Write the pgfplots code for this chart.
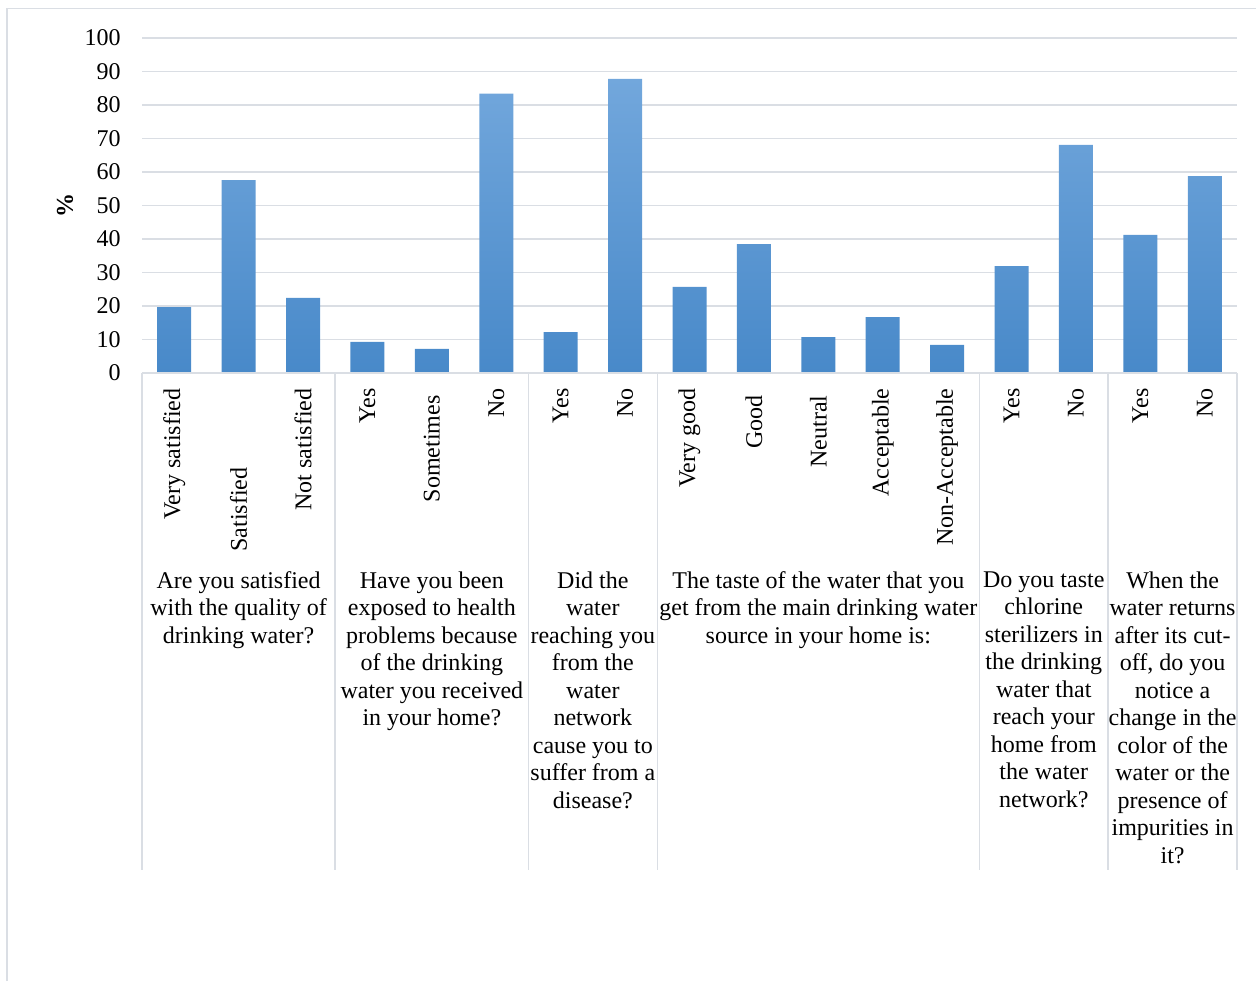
\documentclass[border=0pt]{standalone}
\usepackage{pgfplots}
\pgfplotsset{compat=1.18}
\usepackage{fontspec}
\setmainfont{Liberation Serif}
\definecolor{gridc}{RGB}{218,222,228}
\definecolor{bartop}{RGB}{114,167,220}
\definecolor{barmid}{RGB}{91,157,218}
\definecolor{barbot}{RGB}{72,137,201}
\begin{document}
\begin{tikzpicture}
\useasboundingbox (0,0) rectangle (628pt,-490.5pt);
\draw[gridc, line width=0.8pt] (3.5pt,-490.5pt) -- (3.5pt,-4.2pt) -- (628pt,-4.2pt);
\begin{axis}[
  at={(71pt,-186.5pt)}, anchor=south west,
  scale only axis, width=547.5pt, height=167.5pt,
  xmin=-0.5, xmax=16.5, ymin=0, ymax=100,
  ytick={0,10,...,100},
  xtick={0,...,16},
  xticklabels={Very satisfied,Satisfied\hspace*{39.5pt},Not satisfied,Yes,Sometimes\hspace*{3.5pt},No,Yes,No,Very good,Good\hspace*{3.5pt},Neutral\hspace*{3.5pt},Acceptable,Non-Acceptable,Yes,No,Yes,No},
  major tick length=0pt,
  axis line style={draw=none},
  ymajorgrids, grid style={gridc, line width=0.8pt},
  font=\fontsize{12}{13.75}\selectfont,
  /pgf/number format/assume math mode=true,
  yticklabel style={anchor=east, inner sep=0pt, xshift=-10.5pt},
  xticklabel style={yshift=-7.5pt, rotate=90, anchor=east, inner sep=0pt},
  ylabel={\textbf{\%}},
  ylabel style={at={(axis description cs:-0.0703,0.5)}, anchor=center},
  clip=false,
]
\addplot[ybar, bar width=17pt, draw=none, top color=bartop, middle color=barmid, bottom color=barbot]
 coordinates {(0,19.7) (1,57.6) (2,22.4) (3,9.3) (4,7.2) (5,83.4) (6,12.2) (7,87.8) (8,25.7) (9,38.5) (10,10.7) (11,16.7) (12,8.4) (13,31.9) (14,68.1) (15,41.2) (16,58.8)};
\draw[gridc, line width=0.8pt] (axis cs:-0.5,0) -- (axis cs:-0.5,-148.36);
\draw[gridc, line width=0.8pt] (axis cs:2.5,0) -- (axis cs:2.5,-148.36);
\draw[gridc, line width=0.8pt] (axis cs:5.5,0) -- (axis cs:5.5,-148.36);
\draw[gridc, line width=0.8pt] (axis cs:7.5,0) -- (axis cs:7.5,-148.36);
\draw[gridc, line width=0.8pt] (axis cs:12.5,0) -- (axis cs:12.5,-148.36);
\draw[gridc, line width=0.8pt] (axis cs:14.5,0) -- (axis cs:14.5,-148.36);
\draw[gridc, line width=0.8pt] (axis cs:16.5,0) -- (axis cs:16.5,-148.36);
\draw[gridc, line width=0.8pt] (axis cs:-0.5,0) -- (axis cs:16.5,0);
\tikzset{grp/.style={anchor=north, align=center, inner sep=0pt, font=\fontsize{12}{13.75}\selectfont}}
\node[grp] at (axis cs:1,-59.1) {Are you satisfied\\with the quality of\\drinking water?};
\node[grp] at (axis cs:4,-59.1) {Have you been\\exposed to health\\problems because\\of the drinking\\water you received\\in your home?};
\node[grp] at (axis cs:6.5,-59.1) {Did the\\water\\reaching you\\from the\\water\\network\\cause you to\\suffer from a\\disease?};
\node[grp] at (axis cs:10,-59.1) {The taste of the water that you\\get from the main drinking water\\source in your home is:};
\node[grp] at (axis cs:13.5,-59.1) {Do you taste\\chlorine\\sterilizers in\\the drinking\\water that\\reach your\\home from\\the water\\network?};
\node[grp] at (axis cs:15.5,-59.1) {When the\\water returns\\after its cut-\\off, do you\\notice a\\change in the\\color of the\\water or the\\presence of\\impurities in\\it?};
\end{axis}
\end{tikzpicture}
\end{document}
